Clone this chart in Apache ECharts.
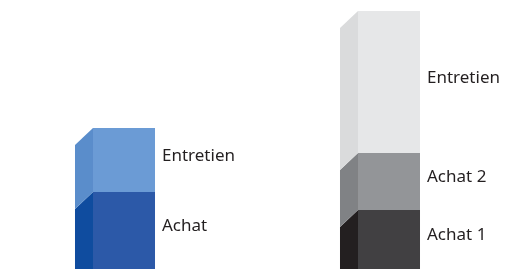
<!DOCTYPE html>
<html>
<head>
<meta charset="utf-8">
<script src="https://cdn.jsdelivr.net/npm/echarts@6/dist/echarts.min.js"></script>
<style>
  html, body { margin: 0; padding: 0; background: #fff; }
  #main { width: 508px; height: 269px; }
</style>
</head>
<body>
<div id="main"></div>
<script>
// données
const leftLabels = ['Achat', 'Entretien'];
const leftValues = [77, 64];
const rightLabels = ['Achat 1', 'Achat 2', 'Entretien'];
const rightValues = [59, 57, 142];

// couleurs face / côté
const leftFront = ['#2C59A8', '#6B9BD5'];
const leftSide = ['#0F4C9F', '#5A8DCB'];
const rightFront = ['#414042', '#939598', '#E6E7E8'];
const rightSide = ['#231F20', '#808285', '#DADBDC'];

// construit les segments empilés
function buildItems(x, labels, values, front, side) {
  let base = 0;
  return values.map((v, i) => {
    const item = {value: [x, base, base + v], label: labels[i], front: front[i], side: side[i]};
    base += v;
    return item;
  });
}
const items = buildItems(0, leftLabels, leftValues, leftFront, leftSide)
  .concat(buildItems(1, rightLabels, rightValues, rightFront, rightSide));

const chart = echarts.init(document.getElementById('main'));
chart.setOption({
  animation: false,
  grid: {left: 124, right: 119, top: 11, bottom: 0},
  xAxis: {type: 'value', min: 0, max: 1, show: false},
  yAxis: {type: 'value', min: 0, max: 258, show: false},
  series: [{
    type: 'custom',
    data: items.map(d => d.value),
    renderItem: function (params, api) {
      const d = items[params.dataIndex];
      const w = api.size([1, 0])[0] * 0.234;
      const p0 = api.coord([api.value(0), api.value(1)]);
      const p1 = api.coord([api.value(0), api.value(2)]);
      const x0 = p0[0] - w / 2;
      const dx = 18, dy = 17;
      return {
        type: 'group',
        children: [{
          type: 'polygon',
          shape: {points: [[x0, p1[1]], [x0, p0[1]], [x0 - dx, p0[1] + dy], [x0 - dx, p1[1] + dy]]},
          style: {fill: d.side}
        }, {
          type: 'rect',
          shape: {x: x0, y: p1[1], width: w, height: p0[1] - p1[1]},
          style: {fill: d.front}
        }, {
          type: 'text',
          x: x0 + w + 7,
          y: (p0[1] + p1[1]) / 2 - 4,
          style: {
            text: d.label, fill: '#231F20', fontSize: 17,
            fontFamily: 'Noto Sans', verticalAlign: 'middle'
          }
        }]
      };
    }
  }]
});
</script>
</body>
</html>
